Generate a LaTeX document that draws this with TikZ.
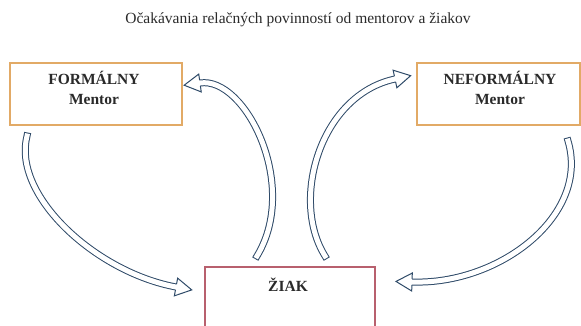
\documentclass[tikz,border=0pt]{standalone}
\usepackage{fontspec}
\setmainfont{Liberation Serif}
\usetikzlibrary{calc}
\definecolor{arrowc}{HTML}{2E4A68}
\definecolor{mborder}{HTML}{E2AA66}
\definecolor{zborder}{HTML}{B8606E}
\definecolor{txt}{HTML}{2A2A2A}
\begin{document}
\begin{tikzpicture}[x=1pt,y=1pt,
  mbox/.style={draw=mborder, line width=1.6pt, minimum width=172pt, minimum height=62pt, inner sep=0pt},
  zbox/.style={draw=zborder, line width=1.6pt, minimum width=170pt, minimum height=68pt, inner sep=0pt},
  lbl/.style={font=\fontsize{15.5}{20}\selectfont\bfseries, text=txt, align=center, inner sep=0pt},
  ttl/.style={font=\fontsize{15.5}{18}\selectfont, text=txt, inner sep=0pt, anchor=base},
  band/.style={draw=arrowc, line width=1pt, double=white, double distance=5pt, line cap=rect},
  ahead/.style={draw=arrowc, line width=1pt, fill=white, line join=miter},
]
\useasboundingbox (0,0) rectangle (581,-326);
\clip (0,0) rectangle (581,-326);

% title
\node[ttl] (title) at (298,-24) {Očakávania relačných povinností od mentorov a žiakov};

% boxes
\node[mbox] (fm) at (96,-94) {};
\node[lbl] (fmt) at (94,-88) {FORMÁLNY\\Mentor};
\node[mbox, minimum width=163pt] (nm) at (498.5,-94) {};
\node[lbl] (nmt) at (500,-88) {NEFORMÁLNY\\Mentor};
\node[zbox] (zk) at (290,-301) {};
\node[lbl] (zkt) at (288,-285) {ŽIAK};

% arrow end points
\coordinate (tA) at (27,-136);
\coordinate (hA) at (176,-287);
\coordinate (tB) at (257,-256);
\coordinate (hB) at (200,-83);
\coordinate (tC) at (325,-256);
\coordinate (hC) at (395,-79);
\coordinate (tD) at (568,-141);
\coordinate (hD) at (412,-282);

% A: formal mentor -> student
\draw[band] (tA) .. controls (12,-195) and (95,-272) .. (hA);
\draw[ahead, shift={(hA)}, rotate=-10.5] (0,-3) -- (0,-9) -- (16,0) -- (0,9) -- (0,3);
% B: student -> formal mentor
\draw[band] (tB) .. controls (300,-185) and (245,-76) .. (hB);
\draw[ahead, shift={(hB)}, rotate=188] (0,-3) -- (0,-9) -- (16,0) -- (0,9) -- (0,3);
% C: student -> informal mentor
\draw[band] (tC) .. controls (290,-200) and (320,-95) .. (hC);
\draw[ahead, shift={(hC)}, rotate=12] (0,-3) -- (0,-9) -- (16,0) -- (0,9) -- (0,3);
% D: informal mentor -> student
\draw[band] (tD) .. controls (590,-215) and (500,-285) .. (hD);
\draw[ahead, shift={(hD)}, rotate=178] (0,-3) -- (0,-9) -- (16,0) -- (0,9) -- (0,3);
\end{tikzpicture}
\end{document}
